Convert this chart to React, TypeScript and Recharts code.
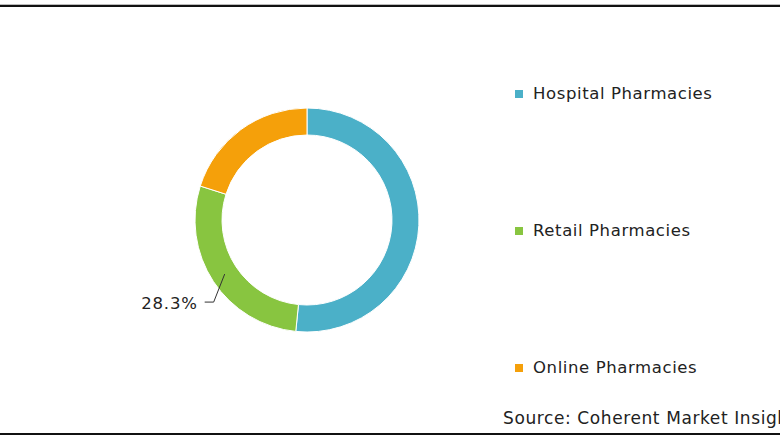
import React from "react";
import { PieChart, Pie, Cell } from "recharts";

const categories = ["Hospital Pharmacies", "Retail Pharmacies", "Online Pharmacies"];
const shares = [51.6, 28.3, 20.1];
const colors = ["#4BB0C8", "#88C540", "#F5A00A"];
const labelledIndex = 1;
const sourceText = "Source: Coherent Market Insights";

const data = categories.map((name, i) => ({ name, value: shares[i] }));

const FONT = "'DejaVu Sans', Verdana, sans-serif";

const renderLabel = (props: any) => {
  const { cx, cy, midAngle, innerRadius, outerRadius, index, value } = props;
  if (index !== labelledIndex) return null;
  const RAD = Math.PI / 180;
  const r = (innerRadius + outerRadius) / 2;
  const x0 = cx + r * Math.cos(-midAngle * RAD);
  const y0 = cy + r * Math.sin(-midAngle * RAD);
  const x1 = x0 - 11;
  const y1 = y0 + 28;
  const x2 = x1 - 9;
  return (
    <g>
      <polyline
        points={`${x0},${y0} ${x1},${y1} ${x2},${y1}`}
        fill="none"
        stroke="#333"
        strokeWidth={1}
      />
      <text
        x={x2 - 7}
        y={y1 + 1}
        textAnchor="end"
        dominantBaseline="central"
        fill="#222"
        fontSize={16.5}
        fontFamily={FONT}
        letterSpacing={0.8}
      >
        {`${value.toFixed(1)}%`}
      </text>
    </g>
  );
};

export default function App() {
  return (
    <div
      style={{
        position: "absolute",
        left: 0,
        top: 0,
        width: 780,
        height: 440,
        overflow: "hidden",
        background: "#fff",
      }}
    >
      <div style={{ position: "absolute", left: 0, top: 4, width: 780, height: 1, background: "#bbb" }} />
      <div style={{ position: "absolute", left: 0, top: 5, width: 780, height: 2, background: "#111" }} />
      <div style={{ position: "absolute", left: 0, top: 433, width: 780, height: 2, background: "#111" }} />
      <div style={{ position: "absolute", left: 0, top: 0 }}>
        <PieChart width={780} height={440} margin={{ top: 0, right: 0, bottom: 0, left: 0 }}>
          <Pie
            data={data}
            dataKey="value"
            nameKey="name"
            cx={307}
            cy={220}
            innerRadius={85}
            outerRadius={112}
            startAngle={90}
            endAngle={-270}
            stroke="#fff"
            strokeWidth={1}
            label={renderLabel}
            labelLine={false}
            isAnimationActive={false}
          >
            {data.map((d, i) => (
              <Cell key={d.name} fill={colors[i]} />
            ))}
          </Pie>
        </PieChart>
      </div>
      {categories.map((name, i) => (
        <div
          key={name}
          style={{
            position: "absolute",
            left: 515,
            top: 84 + i * 137,
            display: "flex",
            alignItems: "center",
            fontFamily: FONT,
            fontSize: 16.5,
            letterSpacing: 0.6,
            color: "#222",
            whiteSpace: "nowrap",
          }}
        >
          <span
            style={{
              display: "inline-block",
              width: 8,
              height: 8,
              background: colors[i],
              marginRight: 10,
            }}
          />
          {name}
        </div>
      ))}
      <div
        style={{
          position: "absolute",
          left: 503,
          top: 408,
          fontFamily: FONT,
          fontSize: 17,
          letterSpacing: 0.6,
          color: "#222",
          whiteSpace: "nowrap",
        }}
      >
        {sourceText}
      </div>
    </div>
  );
}
